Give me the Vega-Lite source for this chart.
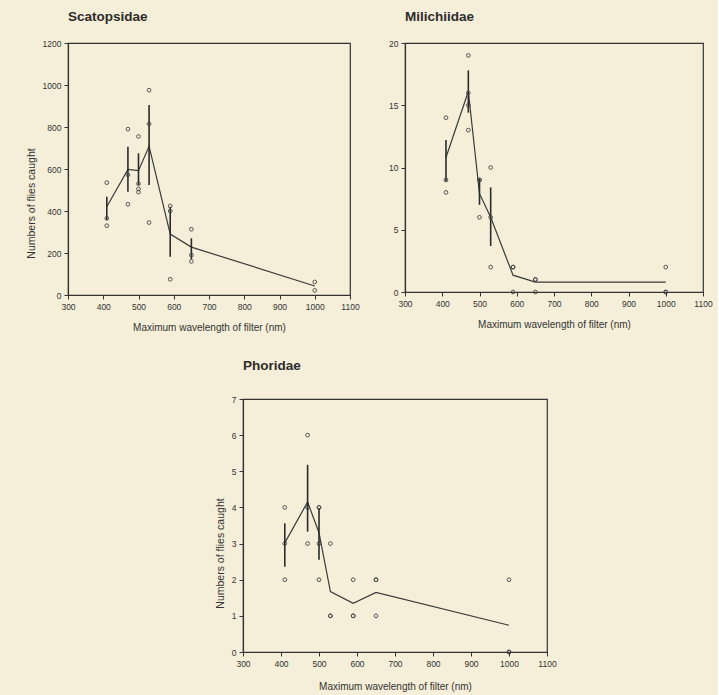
{
  "$schema": "https://vega.github.io/schema/vega-lite/v6.json",
  "background": "#f5efd9",
  "padding": {"left": 25, "top": 8, "right": 5, "bottom": 5},
  "datasets": {
    "points": [
      {"family": "Scatopsidae", "wl": 410, "n": 535},
      {"family": "Scatopsidae", "wl": 410, "n": 365},
      {"family": "Scatopsidae", "wl": 410, "n": 330},
      {"family": "Scatopsidae", "wl": 470, "n": 790},
      {"family": "Scatopsidae", "wl": 470, "n": 572},
      {"family": "Scatopsidae", "wl": 470, "n": 432},
      {"family": "Scatopsidae", "wl": 500, "n": 755},
      {"family": "Scatopsidae", "wl": 500, "n": 530},
      {"family": "Scatopsidae", "wl": 500, "n": 505},
      {"family": "Scatopsidae", "wl": 500, "n": 490},
      {"family": "Scatopsidae", "wl": 530, "n": 975},
      {"family": "Scatopsidae", "wl": 530, "n": 815},
      {"family": "Scatopsidae", "wl": 530, "n": 345},
      {"family": "Scatopsidae", "wl": 590, "n": 424},
      {"family": "Scatopsidae", "wl": 590, "n": 400},
      {"family": "Scatopsidae", "wl": 590, "n": 75},
      {"family": "Scatopsidae", "wl": 650, "n": 313},
      {"family": "Scatopsidae", "wl": 650, "n": 190},
      {"family": "Scatopsidae", "wl": 650, "n": 160},
      {"family": "Scatopsidae", "wl": 1000, "n": 62},
      {"family": "Scatopsidae", "wl": 1000, "n": 22},
      {"family": "Milichiidae", "wl": 410, "n": 14},
      {"family": "Milichiidae", "wl": 410, "n": 9},
      {"family": "Milichiidae", "wl": 410, "n": 8},
      {"family": "Milichiidae", "wl": 470, "n": 19},
      {"family": "Milichiidae", "wl": 470, "n": 16},
      {"family": "Milichiidae", "wl": 470, "n": 15},
      {"family": "Milichiidae", "wl": 470, "n": 13},
      {"family": "Milichiidae", "wl": 500, "n": 9},
      {"family": "Milichiidae", "wl": 500, "n": 9},
      {"family": "Milichiidae", "wl": 500, "n": 6},
      {"family": "Milichiidae", "wl": 530, "n": 10},
      {"family": "Milichiidae", "wl": 530, "n": 6},
      {"family": "Milichiidae", "wl": 530, "n": 2},
      {"family": "Milichiidae", "wl": 590, "n": 2},
      {"family": "Milichiidae", "wl": 590, "n": 2},
      {"family": "Milichiidae", "wl": 590, "n": 0},
      {"family": "Milichiidae", "wl": 650, "n": 1},
      {"family": "Milichiidae", "wl": 650, "n": 1},
      {"family": "Milichiidae", "wl": 650, "n": 0},
      {"family": "Milichiidae", "wl": 1000, "n": 2},
      {"family": "Milichiidae", "wl": 1000, "n": 0},
      {"family": "Milichiidae", "wl": 1000, "n": 0},
      {"family": "Phoridae", "wl": 410, "n": 4},
      {"family": "Phoridae", "wl": 410, "n": 3},
      {"family": "Phoridae", "wl": 410, "n": 2},
      {"family": "Phoridae", "wl": 470, "n": 6},
      {"family": "Phoridae", "wl": 470, "n": 4},
      {"family": "Phoridae", "wl": 470, "n": 3},
      {"family": "Phoridae", "wl": 500, "n": 4},
      {"family": "Phoridae", "wl": 500, "n": 4},
      {"family": "Phoridae", "wl": 500, "n": 3},
      {"family": "Phoridae", "wl": 500, "n": 2},
      {"family": "Phoridae", "wl": 530, "n": 3},
      {"family": "Phoridae", "wl": 530, "n": 1},
      {"family": "Phoridae", "wl": 530, "n": 1},
      {"family": "Phoridae", "wl": 590, "n": 2},
      {"family": "Phoridae", "wl": 590, "n": 1},
      {"family": "Phoridae", "wl": 590, "n": 1},
      {"family": "Phoridae", "wl": 650, "n": 2},
      {"family": "Phoridae", "wl": 650, "n": 2},
      {"family": "Phoridae", "wl": 650, "n": 1},
      {"family": "Phoridae", "wl": 1000, "n": 2},
      {"family": "Phoridae", "wl": 1000, "n": 0},
      {"family": "Phoridae", "wl": 1000, "n": 0}
    ],
    "means": [
      {"family": "Scatopsidae", "wl": 410, "mean": 420, "lo": 357, "hi": 468},
      {"family": "Scatopsidae", "wl": 470, "mean": 598, "lo": 492, "hi": 706},
      {"family": "Scatopsidae", "wl": 500, "mean": 592, "lo": 524, "hi": 675},
      {"family": "Scatopsidae", "wl": 530, "mean": 708, "lo": 524, "hi": 905},
      {"family": "Scatopsidae", "wl": 590, "mean": 290, "lo": 182, "hi": 420},
      {"family": "Scatopsidae", "wl": 650, "mean": 228, "lo": 170, "hi": 270},
      {"family": "Scatopsidae", "wl": 1000, "mean": 43, "lo": 43, "hi": 43},
      {"family": "Milichiidae", "wl": 410, "mean": 10.8, "lo": 8.9, "hi": 12.2},
      {"family": "Milichiidae", "wl": 470, "mean": 16.1, "lo": 14.4, "hi": 17.8},
      {"family": "Milichiidae", "wl": 500, "mean": 7.9, "lo": 7.0, "hi": 9.1},
      {"family": "Milichiidae", "wl": 530, "mean": 6.0, "lo": 3.7, "hi": 8.4},
      {"family": "Milichiidae", "wl": 590, "mean": 1.35, "lo": 1.35, "hi": 1.35},
      {"family": "Milichiidae", "wl": 650, "mean": 0.8, "lo": 0.8, "hi": 0.8},
      {"family": "Milichiidae", "wl": 1000, "mean": 0.8, "lo": 0.8, "hi": 0.8},
      {"family": "Phoridae", "wl": 410, "mean": 3.02, "lo": 2.36, "hi": 3.56},
      {"family": "Phoridae", "wl": 470, "mean": 4.15, "lo": 3.33, "hi": 5.18},
      {"family": "Phoridae", "wl": 500, "mean": 3.3, "lo": 2.55, "hi": 3.98},
      {"family": "Phoridae", "wl": 530, "mean": 1.67, "lo": 1.67, "hi": 1.67},
      {"family": "Phoridae", "wl": 590, "mean": 1.35, "lo": 1.35, "hi": 1.35},
      {"family": "Phoridae", "wl": 650, "mean": 1.65, "lo": 1.65, "hi": 1.65},
      {"family": "Phoridae", "wl": 1000, "mean": 0.74, "lo": 0.74, "hi": 0.74}
    ]
  },
  "vconcat": [
    {
      "hconcat": [
        {
          "width": 282,
          "height": 252,
          "title": {"text": "Scatopsidae"},
          "encoding": {
            "x": {"field": "wl", "type": "quantitative", "scale": {"domain": [300, 1100], "nice": false, "zero": false},
                  "axis": {"tickCount": 8, "title": "Maximum wavelength of filter (nm)"}}
          },
          "layer": [
            {"data": {"name": "means"}, "transform": [{"filter": "datum.family === 'Scatopsidae'"}],
             "mark": {"type": "line", "color": "#3a3a3a", "strokeWidth": 1.2},
             "encoding": {"y": {"field": "mean", "type": "quantitative", "scale": {"domain": [0, 1200], "nice": false},
                                "axis": {"tickCount": 6, "title": "Numbers of flies caught", "titleY": 160}}}},
            {"data": {"name": "means"}, "transform": [{"filter": "datum.family === 'Scatopsidae'"}],
             "mark": {"type": "rule", "color": "#2a2a2a", "strokeWidth": 1.6},
             "encoding": {"y": {"field": "lo", "type": "quantitative", "title": "Numbers of flies caught"}, "y2": {"field": "hi"}}},
            {"data": {"name": "points"}, "transform": [{"filter": "datum.family === 'Scatopsidae'"}],
             "mark": {"type": "point", "shape": "circle", "filled": false, "size": 14, "strokeWidth": 0.9, "color": "#444444", "opacity": 1},
             "encoding": {"y": {"field": "n", "type": "quantitative", "title": "Numbers of flies caught"}}}
          ]
        },
        {
          "width": 298,
          "height": 249,
          "title": {"text": "Milichiidae"},
          "encoding": {
            "x": {"field": "wl", "type": "quantitative", "scale": {"domain": [300, 1100], "nice": false, "zero": false},
                  "axis": {"tickCount": 8, "title": "Maximum wavelength of filter (nm)"}}
          },
          "layer": [
            {"data": {"name": "means"}, "transform": [{"filter": "datum.family === 'Milichiidae'"}],
             "mark": {"type": "line", "color": "#3a3a3a", "strokeWidth": 1.2},
             "encoding": {"y": {"field": "mean", "type": "quantitative", "scale": {"domain": [0, 20], "nice": false},
                                "axis": {"tickCount": 4, "title": null}}}},
            {"data": {"name": "means"}, "transform": [{"filter": "datum.family === 'Milichiidae'"}],
             "mark": {"type": "rule", "color": "#2a2a2a", "strokeWidth": 1.6},
             "encoding": {"y": {"field": "lo", "type": "quantitative", "title": null}, "y2": {"field": "hi"}}},
            {"data": {"name": "points"}, "transform": [{"filter": "datum.family === 'Milichiidae'"}],
             "mark": {"type": "point", "shape": "circle", "filled": false, "size": 14, "strokeWidth": 0.9, "color": "#444444", "opacity": 1},
             "encoding": {"y": {"field": "n", "type": "quantitative", "title": null}}}
          ]
        }
      ],
      "spacing": 55,
      "bounds": "flush"
    },
    {
      "hconcat": [
        {
          "width": 1,
          "height": 253,
          "view": {"stroke": null},
          "data": {"values": []},
          "mark": "point"
        },
        {
          "width": 304,
          "height": 253,
          "title": {"text": "Phoridae", "offset": 23},
          "encoding": {
            "x": {"field": "wl", "type": "quantitative", "scale": {"domain": [300, 1100], "nice": false, "zero": false},
                  "axis": {"tickCount": 8, "title": "Maximum wavelength of filter (nm)", "titlePadding": 14}}
          },
          "layer": [
            {"data": {"name": "points"}, "transform": [{"filter": "datum.family === 'Phoridae'"}],
             "mark": {"type": "point", "shape": "circle", "filled": false, "size": 14, "strokeWidth": 0.9, "color": "#444444", "opacity": 1},
             "encoding": {"y": {"field": "n", "type": "quantitative", "scale": {"domain": [0, 7], "nice": false},
                                "axis": {"tickCount": 7, "tickMinStep": 1, "title": "Numbers of flies caught", "titleY": 154}}}},
            {"data": {"name": "means"}, "transform": [{"filter": "datum.family === 'Phoridae'"}],
             "mark": {"type": "line", "color": "#3a3a3a", "strokeWidth": 1.2},
             "encoding": {"y": {"field": "mean", "type": "quantitative", "title": "Numbers of flies caught"}}},
            {"data": {"name": "means"}, "transform": [{"filter": "datum.family === 'Phoridae'"}],
             "mark": {"type": "rule", "color": "#2a2a2a", "strokeWidth": 1.6},
             "encoding": {"y": {"field": "lo", "type": "quantitative", "title": "Numbers of flies caught"}, "y2": {"field": "hi"}}}
          ]
        }
      ],
      "spacing": 174,
      "bounds": "flush"
    }
  ],
  "spacing": 23,
  "config": {
    "font": "Liberation Sans",
    "view": {"stroke": "#333333", "strokeWidth": 1.2},
    "title": {"font": "Liberation Sans", "fontSize": 13.5, "fontWeight": "bold", "color": "#2b2b2b", "anchor": "start", "frame": "group", "offset": 16},
    "axis": {
      "grid": false,
      "labelOverlap": false,
      "domainColor": "#333333",
      "domainWidth": 1.2,
      "tickColor": "#333333",
      "tickSize": 4,
      "labelFont": "Liberation Sans",
      "labelFontSize": 8.5,
      "labelColor": "#333333",
      "labelPadding": 3,
      "titleFont": "Liberation Sans",
      "titleFontWeight": "normal",
      "titleColor": "#333333"
    },
    "axisX": {"titleFontSize": 10, "titlePadding": 12, "labelFlush": false, "format": "d"},
    "axisY": {"titleFontSize": 10.5, "titlePadding": 6, "labelFlush": false, "format": "d"}
  }
}
